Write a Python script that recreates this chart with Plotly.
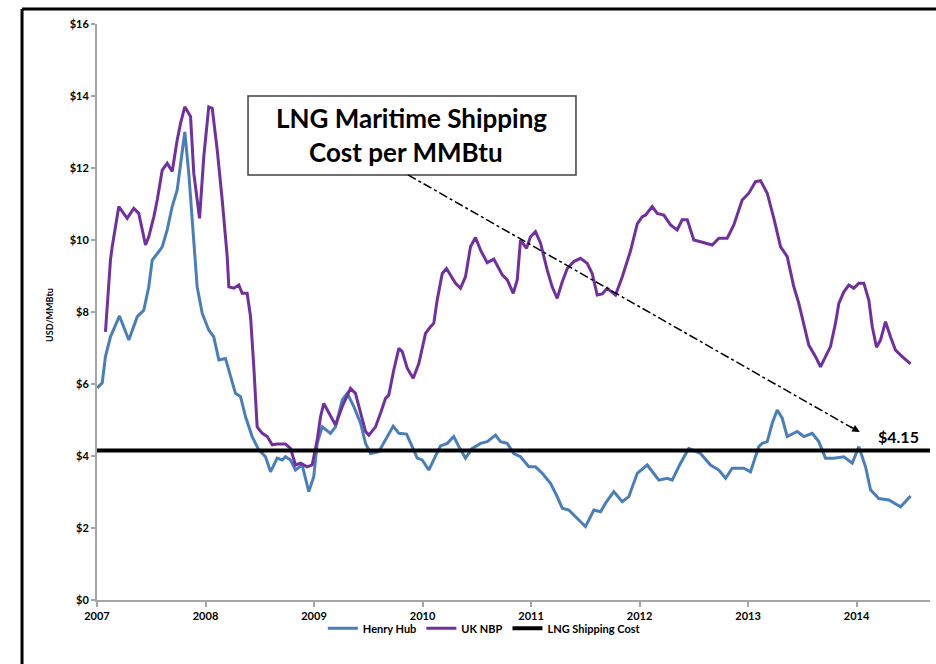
import plotly.graph_objects as go

# Weekly-ish gas price history, USD per MMBtu (decimal year, price)
hh_t = [2007.002, 2007.048, 2007.078, 2007.124, 2007.207, 2007.293, 2007.371, 2007.431, 2007.477, 2007.509,
        2007.570, 2007.601, 2007.647, 2007.693, 2007.739, 2007.779, 2007.809, 2007.846, 2007.877, 2007.923,
        2007.970, 2008.030, 2008.076, 2008.123, 2008.184, 2008.215, 2008.276, 2008.323, 2008.369, 2008.430,
        2008.491, 2008.553, 2008.599, 2008.661, 2008.707, 2008.737, 2008.783, 2008.829, 2008.891, 2008.952,
        2008.998, 2009.029, 2009.076, 2009.152, 2009.198, 2009.260, 2009.306, 2009.367, 2009.429, 2009.475,
        2009.521, 2009.597, 2009.659, 2009.730, 2009.782, 2009.853, 2009.905, 2009.951, 2009.997, 2010.058,
        2010.104, 2010.166, 2010.228, 2010.288, 2010.335, 2010.396, 2010.458, 2010.535, 2010.596, 2010.673,
        2010.719, 2010.781, 2010.841, 2010.903, 2010.980, 2011.041, 2011.103, 2011.180, 2011.241, 2011.288,
        2011.348, 2011.410, 2011.502, 2011.579, 2011.641, 2011.687, 2011.763, 2011.841, 2011.901, 2011.979,
        2012.071, 2012.178, 2012.255, 2012.301, 2012.378, 2012.454, 2012.562, 2012.654, 2012.731, 2012.793,
        2012.854, 2012.961, 2013.023, 2013.099, 2013.131, 2013.177, 2013.223, 2013.269, 2013.315, 2013.361,
        2013.453, 2013.514, 2013.592, 2013.652, 2013.714, 2013.791, 2013.883, 2013.960, 2014.021, 2014.083,
        2014.129, 2014.205, 2014.297, 2014.406, 2014.498]
hh_v = [5.89, 6.03, 6.76, 7.31, 7.89, 7.22, 7.87, 8.05, 8.70, 9.44,
        9.68, 9.81, 10.28, 10.93, 11.39, 12.31, 13.00, 11.85, 10.46, 8.70,
        7.96, 7.50, 7.31, 6.67, 6.71, 6.39, 5.74, 5.65, 5.09, 4.54,
        4.17, 3.98, 3.56, 3.94, 3.89, 3.98, 3.89, 3.61, 3.75, 3.01,
        3.43, 4.35, 4.81, 4.63, 4.81, 5.56, 5.74, 5.37, 4.91, 4.35,
        4.07, 4.12, 4.44, 4.83, 4.63, 4.61, 4.26, 3.94, 3.89, 3.61,
        3.90, 4.28, 4.35, 4.54, 4.26, 3.94, 4.21, 4.35, 4.40, 4.58,
        4.40, 4.35, 4.07, 3.98, 3.70, 3.70, 3.52, 3.24, 2.87, 2.55,
        2.50, 2.31, 2.04, 2.50, 2.45, 2.69, 3.01, 2.73, 2.87, 3.52,
        3.75, 3.33, 3.38, 3.33, 3.80, 4.21, 4.07, 3.75, 3.61, 3.38,
        3.66, 3.66, 3.56, 4.26, 4.35, 4.40, 4.91, 5.28, 5.05, 4.54,
        4.68, 4.54, 4.63, 4.40, 3.94, 3.94, 3.98, 3.80, 4.26, 3.70,
        3.06, 2.82, 2.78, 2.59, 2.89]

nbp_t = [2007.078, 2007.124, 2007.140, 2007.201, 2007.278, 2007.339, 2007.385, 2007.447, 2007.477, 2007.524,
         2007.555, 2007.601, 2007.647, 2007.693, 2007.739, 2007.770, 2007.809, 2007.862, 2007.892, 2007.945,
         2007.984, 2008.030, 2008.062, 2008.108, 2008.154, 2008.200, 2008.215, 2008.261, 2008.307, 2008.338,
         2008.384, 2008.415, 2008.445, 2008.476, 2008.523, 2008.569, 2008.615, 2008.661, 2008.737, 2008.783,
         2008.829, 2008.876, 2008.937, 2008.983, 2009.029, 2009.060, 2009.090, 2009.152, 2009.198, 2009.260,
         2009.336, 2009.382, 2009.429, 2009.475, 2009.505, 2009.567, 2009.613, 2009.659, 2009.689, 2009.735,
         2009.782, 2009.813, 2009.859, 2009.914, 2009.966, 2010.028, 2010.074, 2010.104, 2010.135, 2010.182,
         2010.221, 2010.258, 2010.304, 2010.350, 2010.396, 2010.442, 2010.488, 2010.535, 2010.596, 2010.657,
         2010.735, 2010.781, 2010.836, 2010.873, 2010.903, 2010.959, 2010.995, 2011.041, 2011.088, 2011.149,
         2011.195, 2011.241, 2011.288, 2011.334, 2011.394, 2011.456, 2011.518, 2011.564, 2011.610, 2011.656,
         2011.702, 2011.779, 2011.841, 2011.917, 2011.979, 2012.025, 2012.055, 2012.117, 2012.163, 2012.224,
         2012.286, 2012.347, 2012.393, 2012.440, 2012.500, 2012.562, 2012.670, 2012.731, 2012.808, 2012.869,
         2012.946, 2013.007, 2013.069, 2013.115, 2013.177, 2013.238, 2013.300, 2013.361, 2013.422, 2013.468,
         2013.514, 2013.560, 2013.622, 2013.668, 2013.714, 2013.760, 2013.806, 2013.837, 2013.883, 2013.929,
         2013.975, 2014.021, 2014.067, 2014.113, 2014.145, 2014.184, 2014.221, 2014.267, 2014.313, 2014.359,
         2014.421, 2014.498]
nbp_v = [7.45, 9.44, 9.81, 10.93, 10.60, 10.88, 10.74, 9.86, 10.09, 10.65,
         11.11, 11.94, 12.13, 11.90, 12.78, 13.24, 13.70, 13.43, 11.85, 10.60,
         12.31, 13.70, 13.66, 12.50, 11.11, 9.54, 8.70, 8.66, 8.75, 8.52,
         8.52, 7.87, 6.48, 4.81, 4.63, 4.54, 4.31, 4.33, 4.33, 4.21,
         3.75, 3.80, 3.70, 3.75, 4.44, 5.09, 5.46, 5.09, 4.86, 5.37,
         5.88, 5.74, 5.19, 4.68, 4.58, 4.81, 5.19, 5.60, 5.69, 6.39,
         6.99, 6.90, 6.44, 6.16, 6.57, 7.41, 7.59, 7.69, 8.33, 9.07,
         9.21, 9.03, 8.80, 8.66, 8.98, 9.81, 10.07, 9.72, 9.37, 9.47,
         9.03, 8.89, 8.52, 8.89, 10.00, 9.77, 10.09, 10.23, 9.91, 9.17,
         8.70, 8.38, 8.84, 9.21, 9.40, 9.49, 9.35, 9.07, 8.47, 8.50,
         8.66, 8.47, 8.98, 9.70, 10.45, 10.65, 10.69, 10.93, 10.74, 10.69,
         10.42, 10.28, 10.56, 10.56, 10.00, 9.95, 9.86, 10.05, 10.05, 10.42,
         11.11, 11.30, 11.62, 11.65, 11.30, 10.60, 9.81, 9.54, 8.70, 8.24,
         7.69, 7.08, 6.76, 6.48, 6.76, 7.04, 7.69, 8.24, 8.56, 8.75,
         8.66, 8.80, 8.80, 8.33, 7.59, 7.02, 7.22, 7.73, 7.31, 6.94,
         6.76, 6.56]

ship_cost = 4.15
x_span = [2007.0, 2014.677]
year_ticks = [2007, 2008, 2009, 2010, 2011, 2012, 2013, 2014]
price_ticks = [0, 2, 4, 6, 8, 10, 12, 14, 16]

BLUE = "#4A7EBB"
PURPLE = "#7030A0"
AXIS_GREY = "#A6A6A6"
TICK_FONT = dict(family="Lato", size=11, color="black", weight="bold")
BOX_FONT = dict(family="Lato", size=26, color="black", weight="bold")

fig = go.Figure()
fig.add_trace(go.Scatter(x=hh_t, y=hh_v, mode="lines", name="Henry Hub",
                         line=dict(color=BLUE, width=3)))
fig.add_trace(go.Scatter(x=nbp_t, y=nbp_v, mode="lines", name="UK NBP",
                         line=dict(color=PURPLE, width=3)))
fig.add_trace(go.Scatter(x=x_span, y=[ship_cost, ship_cost], mode="lines",
                         name="LNG Shipping Cost", line=dict(color="black", width=4)))

# frame around the chart (top and left edges)
fig.add_shape(type="line", xref="paper", yref="paper", x0=-0.09, x1=1.01, y0=1.026, y1=1.026,
              line=dict(color="black", width=3))
fig.add_shape(type="line", xref="paper", yref="paper", x0=-0.09, x1=-0.09, y0=1.026, y1=-0.12,
              line=dict(color="black", width=3))

# callout box
fig.add_shape(type="rect", xref="paper", yref="paper", x0=0.1813, x1=0.575, y0=0.7378, y1=0.875,
              line=dict(color="#404040", width=1.5), fillcolor="white", layer="above")
fig.add_annotation(xref="paper", yref="paper", x=0.378, y=0.8368, xanchor="center", yanchor="middle",
                   text="LNG Maritime Shipping", showarrow=False, font=BOX_FONT)
fig.add_annotation(xref="paper", yref="paper", x=0.371, y=0.7778, xanchor="center", yanchor="middle",
                   text="Cost per MMBtu", showarrow=False, font=BOX_FONT)

# dash-dot pointer from the callout down to the shipping cost line
fig.add_shape(type="line", xref="x", yref="y", x0=2009.866, y0=11.81, x1=2013.96, y1=4.78,
              line=dict(color="black", width=1.5, dash="dashdot"))
fig.add_annotation(xref="x", yref="y", x=2014.03, y=4.67, ax=-11, ay=-6, axref="pixel", ayref="pixel",
                   text="", showarrow=True, arrowhead=2, arrowsize=1, arrowwidth=1.5, arrowcolor="black")
fig.add_annotation(xref="x", yref="y", x=2014.39, y=ship_cost, yshift=14, xanchor="center",
                   yanchor="middle", text="$4.15", showarrow=False,
                   font=dict(family="Lato", size=16, color="black", weight="bold"))

# y-axis title
fig.add_annotation(xref="paper", yref="paper", x=-0.0564, y=0.495, xanchor="center", yanchor="middle",
                   text="USD/MMBtu", textangle=-90, showarrow=False,
                   font=dict(family="Lato", size=9, color="black", weight="bold"))

fig.update_layout(
    width=936, height=664,
    margin=dict(l=97, r=6, t=24, b=64),
    paper_bgcolor="white", plot_bgcolor="white",
    showlegend=True,
    legend=dict(orientation="h", x=0.465, xanchor="center", y=-0.049, yanchor="middle",
                font=dict(family="Lato", size=11, color="black", weight="bold"),
                itemwidth=30, tracegroupgap=0, bgcolor="rgba(0,0,0,0)"),
    xaxis=dict(range=x_span, tickmode="array", tickvals=year_ticks, ticktext=[str(y) for y in year_ticks],
               showgrid=False, zeroline=False, showline=True, linecolor=AXIS_GREY, linewidth=2,
               ticks="outside", ticklen=5, tickcolor=AXIS_GREY, tickwidth=1.5, tickfont=TICK_FONT),
    yaxis=dict(range=[0, 16], tickmode="array", tickvals=price_ticks,
               ticktext=["$" + str(v) for v in price_ticks],
               showgrid=False, zeroline=False, showline=True, linecolor=AXIS_GREY, linewidth=2,
               ticks="outside", ticklen=4, tickcolor=AXIS_GREY, tickwidth=1.5, tickfont=TICK_FONT),
)

fig.write_html("out.html")
